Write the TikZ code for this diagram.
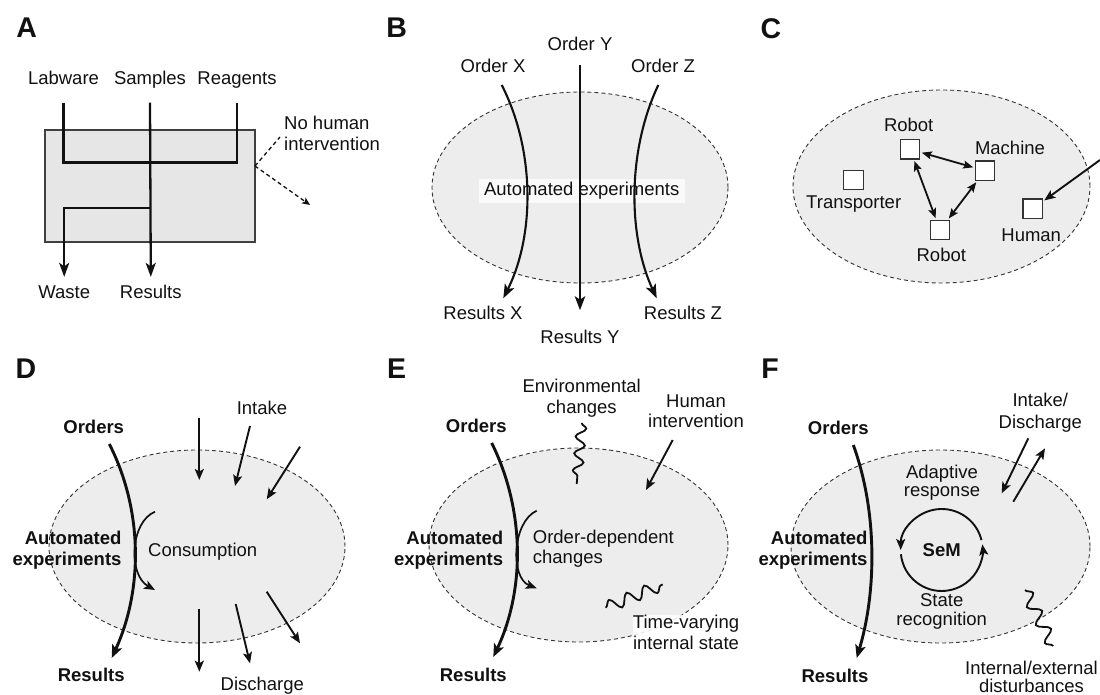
\documentclass[tikz,border=0pt]{standalone}
\usepackage{fontspec}
\setmainfont{Liberation Sans}
\usetikzlibrary{arrows.meta,decorations.pathmorphing,calc,shapes.geometric}
\definecolor{ellgray}{HTML}{EDEDED}
\definecolor{boxgray}{HTML}{E6E6E6}
\definecolor{ink}{HTML}{111111}
\begin{document}
\begin{tikzpicture}[x=1pt,y=-1pt,
 txt/.style={font=\fontsize{18.5}{20.5}\selectfont, inner sep=0pt, text height=13.3pt, text depth=3.9pt, text=ink},
 btxt/.style={txt, font=\fontsize{18.5}{20.5}\selectfont\bfseries},
 mtxt/.style={font=\fontsize{18.5}{20.5}\selectfont, inner sep=0pt, align=center, text=ink},
 bmtxt/.style={mtxt, font=\fontsize{18.5}{20.5}\selectfont\bfseries, align=right, anchor=east},
 panel/.style={font=\fontsize{28.5}{30}\selectfont\bfseries, inner sep=0pt, text height=20.4pt, text depth=0pt, text=ink},
 ellip/.style={ellipse, draw=black!80, dash pattern=on 4pt off 3pt, fill=ellgray, line width=0.9pt, inner sep=0pt},
 rectA/.style={draw=black!75, fill=boxgray, line width=1.2pt, inner sep=0pt},
 cbox/.style={draw=black!80, fill=white, line width=1.2pt, minimum size=19.5pt, inner sep=0pt},
 ln/.style={draw=ink, line width=2.3pt},
 arA/.style={-{Stealth[length=14pt,width=10pt,inset=3.5pt]}},
 ar/.style={draw=ink, line width=1.9pt, -{Stealth[length=11pt,width=9pt,inset=2.5pt]}},
 bar/.style={draw=ink, line width=2.1pt, -{Stealth[length=14pt,width=10.5pt,inset=3.5pt]}},
 oar/.style={draw=ink, line width=2.9pt, -{Stealth[length=13pt,width=10.5pt,inset=3pt]}},
 car/.style={draw=ink, line width=1.7pt, -{Stealth[length=11pt,width=9pt,inset=2.5pt]}},
 dar/.style={draw=ink, line width=1.8pt, {Stealth[length=10pt,width=8pt,inset=2pt]}-{Stealth[length=10pt,width=8pt,inset=2pt]}, shorten <=1.5pt, shorten >=1.5pt},
 dsh/.style={draw=ink, line width=1.3pt, dash pattern=on 4pt off 3pt},
 wave/.style={draw=ink, line width=1.8pt, decorate, decoration={snake, amplitude=5pt, segment length=17pt}}
]
\useasboundingbox (0,0) rectangle (1100,695);
\fill[white] (0,0) rectangle (1100,695);

% ---------------- Panel A
\node[panel] (pA) at (26.7,27) {A};
\node[rectA, minimum width=210pt, minimum height=112pt] (boxA) at (150,186) {};
\node[txt] (lab) at (63.5,79.8) {Labware};
\node[txt] (sam) at (150,79.8) {Samples};
\node[txt] (rea) at (237,79.8) {Reagents};
\node[txt] (waste) at (64.2,293.7) {Waste};
\node[txt] (res) at (150.8,293.7) {Results};
\node[mtxt, align=left, anchor=west] (nh) at (284,133.2) {No human\\intervention};
\draw[ln] ([yshift=-14pt]lab.south) -- ++(0,60) -| ([yshift=-14pt]rea.south);
\draw[ln, arA] ([yshift=-14pt]sam.south) -- ([yshift=8pt]res.north);
\coordinate (br) at (150,208);
\draw[ln, arA] (br) -| ([yshift=8pt]waste.north);
\coordinate (ap) at (255,166);
\coordinate (nh1) at (280,137);
\coordinate (nh2) at (310,205);
\draw[dsh] (ap) -- (nh1);
\draw[dsh, -{Stealth[length=8pt,width=7pt,inset=2pt]}] (ap) -- (nh2);

% ---------------- Panel B
\node[panel] (pB) at (396.7,27) {B};
\node[ellip, minimum width=296pt, minimum height=191pt] (eB) at (580,187.5) {};
\node[txt, fill=white, fill opacity=0.75, text opacity=1, inner xsep=5.5pt, inner ysep=3.5pt] (autoB) at (581.7,191) {Automated experiments};
\node[txt] (ordY) at (580,46) {Order Y};
\node[txt] (ordX) at (493,68) {Order X};
\node[txt] (ordZ) at (663,68) {Order Z};
\node[txt] (resX) at (483,315) {Results X};
\node[txt] (resY) at (580,339) {Results Y};
\node[txt] (resZ) at (683,315) {Results Z};
\draw[bar] ([yshift=-10pt]ordY.south) -- ([yshift=20pt]resY.north);
\coordinate (xs) at (501.7,85);
\coordinate (xe) at (503.3,298.3);
\draw[bar] (xs) .. controls (535,150) and (535,235) .. (xe);
\coordinate (zs) at (658.3,85);
\coordinate (ze) at (656.7,298.3);
\draw[bar] (zs) .. controls (627.5,150) and (627.5,235) .. (ze);

% ---------------- Panel C
\node[panel] (pC) at (770.8,28) {C};
\node[ellip, minimum width=297pt, minimum height=193pt] (eC) at (941.5,186.5) {};
\node[cbox] (rt) at (910,149.3) {};
\node[cbox] (mach) at (985,170.7) {};
\node[cbox] (tr) at (853.5,180) {};
\node[cbox] (rb) at (940,230) {};
\node[cbox] (hum) at (1032.7,208.8) {};
\node[txt] (rtl) at (908.7,126.5) {Robot};
\node[txt] (machl) at (1010,149.8) {Machine};
\node[txt] (trl) at (853.7,204.2) {Transporter};
\node[txt] (rbl) at (941.3,257) {Robot};
\node[txt] (huml) at (1031.2,236.5) {Human};
\draw[dar] (rt) -- (mach);
\draw[dar] (rt) -- (rb);
\draw[dar] (mach) -- (rb);
\coordinate (hs) at (1100,160);
\draw[ar, shorten >=1.5pt] (hs) -- (hum);

% ---------------- Panel D
\node[panel] (pD) at (25.8,368) {D};
\node[ellip, minimum width=296pt, minimum height=193pt] (eD) at (197,546.5) {};
\node[btxt] (ordD) at (93.7,429) {Orders};
\node[btxt] (resD) at (91.2,677) {Results};
\node[bmtxt] (autoD) at (121.7,550.2) {Automated\\experiments};
\node[txt] (cons) at (202.7,552) {Consumption};
\node[txt] (intD) at (262,409.5) {Intake};
\node[txt] (disD) at (262.3,686) {Discharge};
\coordinate (oD1) at (109.3,444);
\coordinate (oD2) at (111.7,658);
\draw[oar] (oD1) .. controls (143,510) and (143,590) .. (oD2);
\coordinate (cD1) at (155,511.7);
\coordinate (cD2) at (155,590);
\draw[car] (cD1) .. controls (130,522) and (128,575) .. (cD2);
\coordinate (i1a) at (199.3,418.3); \coordinate (i1b) at (199.3,480);
\coordinate (i2a) at (250,426);     \coordinate (i2b) at (235,486);
\coordinate (i3a) at (300,446.7);   \coordinate (i3b) at (266.7,499.3);
\draw[ar] (i1a) -- (i1b);
\draw[ar] (i2a) -- (i2b);
\draw[ar] (i3a) -- (i3b);
\coordinate (d1a) at (199.3,609.3); \coordinate (d1b) at (199.3,671.7);
\coordinate (d2a) at (235.7,604);   \coordinate (d2b) at (250,663.3);
\coordinate (d3a) at (266.7,591.7); \coordinate (d3b) at (300,643.3);
\draw[ar] (d1a) -- (d1b);
\draw[ar] (d2a) -- (d2b);
\draw[ar] (d3a) -- (d3b);

% ---------------- Panel E
\node[panel] (pE) at (396.7,368) {E};
\node[ellip, minimum width=299pt, minimum height=194pt] (eE) at (578.5,545) {};
\node[btxt] (ordE) at (476.3,427.5) {Orders};
\node[btxt] (resE) at (473.3,676.5) {Results};
\node[bmtxt] (autoE) at (503.3,550.2) {Automated\\experiments};
\node[mtxt, align=left, anchor=west] (odc) at (532.7,548.6) {Order-dependent\\changes};
\node[mtxt] (env) at (581.7,398.1) {Environmental\\changes};
\node[mtxt] (hint) at (696,411.4) {Human\\intervention};
\node[mtxt, fill=white, fill opacity=0.85, text opacity=1] (tv) at (686,632.2) {Time-varying\\internal state};
\coordinate (oE1) at (491.7,443);
\coordinate (oE2) at (493.3,657);
\draw[oar] (oE1) .. controls (525,510) and (525,590) .. (oE2);
\coordinate (cE1) at (536.7,510.7);
\coordinate (cE2) at (536.7,588.3);
\draw[car] (cE1) .. controls (512,522) and (510,578) .. (cE2);
\coordinate (w1a) at (581.7,423);
\coordinate (w1b) at (576.7,484);
\draw[wave] (w1a) -- (w1b);
\coordinate (w2a) at (605.7,607.7);
\coordinate (w2b) at (662.7,584.5);
\draw[wave, decoration={snake, amplitude=6pt, segment length=19pt}] (w2a) -- (w2b);
\coordinate (hE1) at (672.7,440);
\coordinate (hE2) at (646,490);
\draw[ar] (hE1) -- (hE2);

% ---------------- Panel F
\node[panel] (pF) at (770,368) {F};
\node[ellip, minimum width=299pt, minimum height=193pt] (eF) at (940.5,546.5) {};
\node[btxt] (ordF) at (838.3,429.8) {Orders};
\node[btxt] (resF) at (835,677.5) {Results};
\node[bmtxt] (autoF) at (867.7,550.2) {Automated\\experiments};
\node[mtxt] (idF) at (1040.3,412.8) {Intake/\\[1pt]Discharge};
\node[mtxt] (adap) at (942,482.3) {Adaptive\\[-2.5pt]response};
\node[mtxt] (state) at (941.7,611.4) {State\\[-1.5pt]recognition};
\node[btxt] (sem) at (941.7,551.5) {SeM};
\node[mtxt] (dist) at (1031.5,676.5) {Internal/external\\[-2.5pt]disturbances};
\coordinate (oF1) at (853.3,445);
\coordinate (oF2) at (856.7,658);
\draw[oar] (oF1) .. controls (877,510) and (877,590) .. (oF2);
\coordinate (semc) at (941.7,550);
\draw[car, line width=1.9pt] ($(semc)+(14:41pt)$) arc[start angle=14, end angle=180, radius=41pt];
\draw[car, line width=1.9pt] ($(semc)+(186:41pt)$) arc[start angle=186, end angle=368, radius=41pt];
\coordinate (fi1) at (1028.3,438.3); \coordinate (fi2) at (1001.7,493.3);
\coordinate (fo1) at (1013.3,501.7); \coordinate (fo2) at (1045,448.3);
\draw[ar] (fi1) -- (fi2);
\draw[ar] (fo1) -- (fo2);
\coordinate (w3a) at (1025,590);
\coordinate (w3b) at (1053,646);
\draw[wave, decoration={snake, amplitude=6pt, segment length=20pt}] (w3a) -- (w3b);
\end{tikzpicture}
\end{document}
